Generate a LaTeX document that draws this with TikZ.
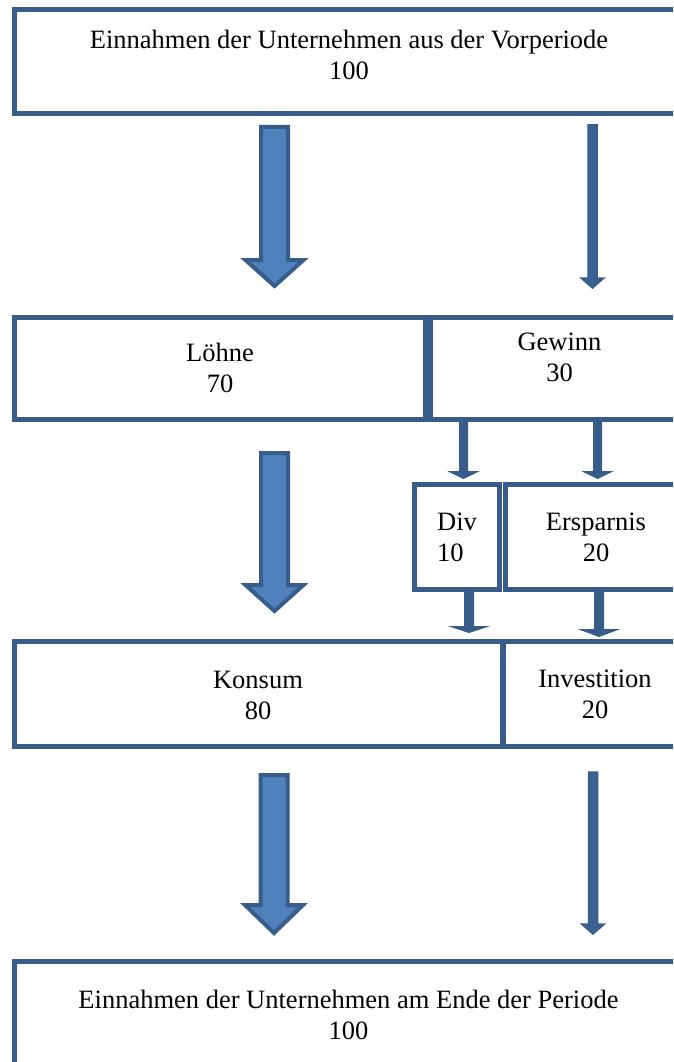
\documentclass[tikz,border=0pt]{standalone}
\usepackage{fontspec}
\setmainfont{Liberation Serif}
\definecolor{bdr}{HTML}{385D8A}
\definecolor{fil}{HTML}{4F81BD}
\tikzset{
  box/.style={draw=bdr, line width=5pt, rectangle, inner sep=0pt, fill=white},
  txt/.style={font=\fontsize{26.5}{31}\selectfont, align=center, inner sep=0pt},
  bigarrow/.style={draw=bdr, fill=fil, line width=4pt, line join=miter},
  thinarrow/.style={draw=bdr, fill=bdr!85!fil, line width=1.5pt, line join=miter},
  smallarrow/.style={fill=bdr}
}
% [style]{cx}{ytop}{ytip}{half shaft}{half head}{head length}
\newcommand{\blkarrow}[7][]{%
  \path[#1] ({#2-#5},#3) -- ({#2+#5},#3) -- ({#2+#5},{#4-#7}) -- ({#2+#6},{#4-#7})
    -- (#2,#4) -- ({#2-#6},{#4-#7}) -- ({#2-#5},{#4-#7}) -- cycle;}
\begin{document}
\begin{tikzpicture}[x=1pt,y=-1pt]
\useasboundingbox (0,0) rectangle (673,1062);
\clip (0,0) rectangle (673,1062);
% boxes
\node[box, minimum width=678pt, minimum height=104pt] (top) at (353,62) {};
\node[box, minimum width=411pt, minimum height=102pt] (loehne) at (219.5,368) {};
\node[box, minimum width=261pt, minimum height=102pt] (gewinn) at (561,368) {};
\node[box, minimum width=85pt, minimum height=105pt] (div) at (457,536.5) {};
\node[box, minimum width=187pt, minimum height=105pt] (ersparnis) at (598.5,536.5) {};
\node[box, minimum width=488pt, minimum height=105pt] (konsum) at (258,693.5) {};
\node[box, minimum width=189pt, minimum height=105pt] (invest) at (597.5,693.5) {};
\node[box, minimum width=678pt, minimum height=129pt] (final) at (353,1025.5) {};
% texts
\node[txt] (topt) at (349,55) {Einnahmen der Unternehmen aus der Vorperiode\\100};
\node[txt] (loehnet) at (220,367.5) {Löhne\\70};
\node[txt] (gewinnt) at (559.5,357.5) {Gewinn\\30};
\node[txt, align=left, anchor=west] (divt) at (437,537.5) {Div\\10};
\node[txt] (ersparnist) at (596,537.5) {Ersparnis\\20};
\node[txt] (konsumt) at (258,695) {Konsum\\80};
\node[txt] (investt) at (595,694.5) {Investition\\20};
\node[txt] (finalt) at (348.5,1014.5) {Einnahmen der Unternehmen am Ende der Periode\\100};
% arrows
\blkarrow[bigarrow]{274.5}{127}{286}{13.5}{29}{26}
\blkarrow[bigarrow]{274.5}{453}{611}{13.5}{29}{26}
\blkarrow[bigarrow]{274}{775}{933}{13.5}{29}{28}
\blkarrow[thinarrow]{592.5}{125}{288}{4.5}{11.5}{10}
\blkarrow[thinarrow]{593}{772}{934}{4.5}{11.5}{10}
\blkarrow[smallarrow]{463.5}{421}{479}{4.5}{16.5}{8}
\blkarrow[smallarrow]{597.5}{421}{479}{4.5}{16.5}{8}
\blkarrow[smallarrow]{469}{591}{633}{5}{21.5}{7}
\blkarrow[smallarrow]{599}{591}{637}{5}{21.5}{8}
\end{tikzpicture}
\end{document}
